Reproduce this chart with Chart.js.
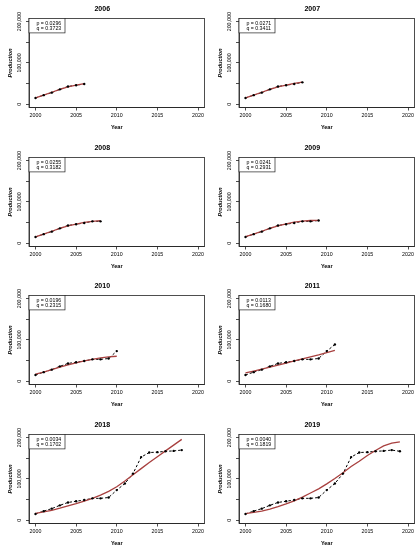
<!DOCTYPE html>
<html>
<head>
<meta charset="utf-8">
<script src="https://cdn.jsdelivr.net/npm/chart.js@4/dist/chart.umd.min.js"></script>
<style>
  html, body { margin: 0; padding: 0; background: #fff; overflow: hidden; }
  #wrap { position: relative; width: 419px; height: 550px; overflow: hidden; }
  .panel { position: absolute; width: 210px; height: 139px; }
</style>
</head>
<body>
<div id="wrap"></div>
<script>
// data
const panelYears = [2006, 2007, 2008, 2009, 2010, 2011, 2018, 2019];
const pValues = ['0.0296', '0.0271', '0.0255', '0.0241', '0.0196', '0.0113', '0.0034', '0.0040'];
const qValues = ['0.3723', '0.3411', '0.3182', '0.2931', '0.2315', '0.1680', '0.1702', '0.1819'];

const years = [2000, 2001, 2002, 2003, 2004, 2005, 2006, 2007, 2008, 2009,
               2010, 2011, 2012, 2013, 2014, 2015, 2016, 2017, 2018, 2019];
const production = [15000, 22000, 28000, 36000, 43000, 46000, 49000, 53000, 53000, 55000,
                    73000, 89000, 113000, 153000, 164000, 165000, 167000, 168000, 170000, 167000];

// fitted curves, one per panel
const fit2006 = [15500, 22000, 29000, 36000, 42000, 46500, 50000];
const fit2007 = [15500, 22000, 29000, 36000, 42000, 46500, 50500, 53500];
const fit2008 = [15500, 22000, 29000, 36000, 42000, 46500, 50500, 53000, 54500];
const fit2009 = [16000, 22000, 29000, 36000, 42000, 47000, 51000, 53500, 55000, 55500];
const fit2010 = [17000, 22000, 28000, 34000, 39500, 44500, 49000, 53000, 56500, 59000, 60500];
const fit2011 = [20000, 24500, 29000, 34000, 39000, 44000, 49000, 54000, 59000, 64000, 69500, 75000];
const fit2018 = [16500, 20000, 24000, 29000, 34500, 40000, 46000, 53000, 61000, 70000,
                 81000, 95000, 110000, 125000, 140000, 154000, 168000, 182000, 196000];
const fit2019 = [16000, 19000, 22000, 27000, 33000, 39500, 47000, 56000, 66000, 76000,
                 88000, 101000, 115000, 130000, 143000, 157000, 169000, 180000, 187000, 190000];
const fits = [fit2006, fit2007, fit2008, fit2009, fit2010, fit2011, fit2018, fit2019];

const xTicks = [2000, 2005, 2010, 2015, 2020];
const yTicks = [0, 50000, 100000, 150000, 200000];
const yLabels = [0, 100000, 200000];

const FONT = '"Liberation Sans", Arial, sans-serif';
const RED = '#a8403f';

// box around the plot region
const frame = {
  id: 'frame',
  afterDraw(chart) {
    const { ctx, chartArea: a } = chart;
    ctx.save();
    ctx.strokeStyle = '#222';
    ctx.lineWidth = 0.8;
    ctx.strokeRect(a.left, a.top, a.right - a.left, a.bottom - a.top);
    ctx.restore();
  }
};

// rotated y tick labels, R style
const yTickText = {
  id: 'yTickText',
  afterDraw(chart) {
    const { ctx, scales: { y } } = chart;
    ctx.save();
    ctx.font = '5.3px ' + FONT;
    ctx.fillStyle = '#000';
    ctx.textAlign = 'center';
    ctx.textBaseline = 'middle';
    yLabels.forEach(v => {
      ctx.save();
      ctx.translate(y.right - 9, y.getPixelForValue(v));
      ctx.rotate(-Math.PI / 2);
      ctx.fillText(v.toLocaleString('en-US'), 0, 0);
      ctx.restore();
    });
    ctx.restore();
  }
};

// p / q legend box in the top left corner
const pqBox = {
  id: 'pqBox',
  afterDraw(chart, args, opts) {
    const { ctx, chartArea: a } = chart;
    ctx.save();
    ctx.fillStyle = '#fff';
    ctx.fillRect(a.left, a.top, 36, 14.5);
    ctx.strokeStyle = '#222';
    ctx.lineWidth = 0.7;
    ctx.strokeRect(a.left, a.top, 36, 14.5);
    ctx.fillStyle = '#000';
    ctx.font = '5.2px ' + FONT;
    ctx.textBaseline = 'middle';
    ctx.fillText('p = ' + opts.p, a.left + 7.5, a.top + 5.3);
    ctx.fillText('q = ' + opts.q, a.left + 7.5, a.top + 10.3);
    ctx.restore();
  }
};

const wrap = document.getElementById('wrap');

panelYears.forEach((yr, i) => {
  const div = document.createElement('div');
  div.className = 'panel';
  div.style.left = (i % 2) * 209.5 + 'px';
  div.style.top = Math.floor(i / 2) * 138.5 + 'px';
  const canvas = document.createElement('canvas');
  canvas.width = 210;
  canvas.height = 139;
  div.appendChild(canvas);
  wrap.appendChild(div);

  const n = yr - 2000 + 1;
  const obs = years.slice(0, n).map((x, k) => ({ x, y: production[k] }));
  const fitted = fits[i].map((y, k) => ({ x: years[k], y }));

  new Chart(canvas, {
    type: 'line',
    data: {
      datasets: [
        { data: obs, borderColor: '#000', borderWidth: 1, borderDash: [2.5, 2],
          pointRadius: 0, tension: 0, order: 3 },
        { data: fitted, borderColor: RED, borderWidth: 1.3, pointRadius: 0,
          tension: 0, order: 2 },
        { data: obs, showLine: false, pointRadius: 1.2, pointStyle: 'circle',
          pointBackgroundColor: '#000', pointBorderWidth: 0, order: 1 }
      ]
    },
    options: {
      responsive: false,
      animation: false,
      events: [],
      layout: { padding: { left: 0, right: 5.5, top: 0, bottom: 0 } },
      plugins: {
        legend: { display: false },
        tooltip: { enabled: false },
        title: {
          display: true, text: String(yr), color: '#000',
          font: { family: FONT, size: 7, weight: 'bold' },
          padding: { top: 5, bottom: 5 }
        },
        pqBox: { p: pValues[i], q: qValues[i] }
      },
      scales: {
        x: {
          type: 'linear', min: 1999.2, max: 2020.8,
          afterBuildTicks: s => { s.ticks = xTicks.map(v => ({ value: v })); },
          afterFit: s => { s.height = 31.5; },
          ticks: { color: '#000', font: { family: FONT, size: 5.3 }, padding: 1.5,
                   maxRotation: 0, callback: v => String(v) },
          grid: { drawOnChartArea: false, color: '#222', lineWidth: 0.8, tickLength: 3 },
          border: { color: '#222', width: 0.8 },
          title: { display: true, text: 'Year', color: '#000',
                   font: { family: FONT, size: 5.5, weight: 'bold' },
                   padding: { top: 0, bottom: 8.2 } }
        },
        y: {
          type: 'linear', min: -8000, max: 208000,
          afterBuildTicks: s => { s.ticks = yTicks.map(v => ({ value: v })); },
          afterFit: s => { s.width = 29; },
          ticks: { display: false },
          grid: { drawOnChartArea: false, color: '#222', lineWidth: 0.8, tickLength: 3 },
          border: { color: '#222', width: 0.8 },
          title: { display: true, text: 'Production', color: '#000',
                   font: { family: FONT, size: 5.5, weight: 'bold', style: 'italic' },
                   padding: { top: 6.7, bottom: 0 } }
        }
      }
    },
    plugins: [frame, yTickText, pqBox]
  });
});
</script>
</body>
</html>
